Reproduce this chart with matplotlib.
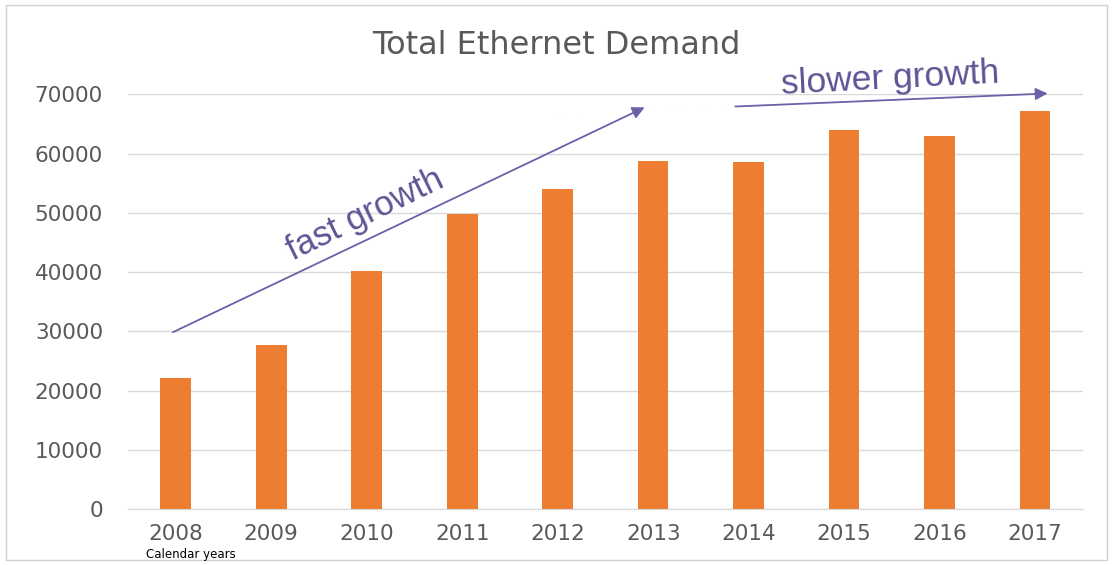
import matplotlib
matplotlib.use("Agg")
import matplotlib.pyplot as plt
from matplotlib.patches import Rectangle

years = ['2008', '2009', '2010', '2011', '2012', '2013', '2014', '2015', '2016', '2017']
demand = [22200, 27650, 40150, 49850, 54100, 58750, 58500, 64050, 62950, 67150]
yticks = [0, 10000, 20000, 30000, 40000, 50000, 60000, 70000]

bar_color = '#ED7D31'
arrow_color = '#6F5FA8'
text_color = '#5E5494'
grey = '#595959'

plt.rcParams['font.family'] = ['DejaVu Sans']

fig = plt.figure(figsize=(11.13, 5.65), dpi=100)
ax = fig.add_axes([0.115, 0.099, 0.858, 0.734])

x = range(len(years))
ax.bar(x, demand, width=0.32, color=bar_color, zorder=2)

ax.set_xlim(-0.5, len(years) - 0.5)
ax.set_ylim(0, 70000)
ax.set_yticks(yticks)
ax.set_yticklabels([str(v) for v in yticks])
ax.set_xticks(list(x))
ax.set_xticklabels(years)
ax.tick_params(axis='both', length=0, labelsize=15.5, colors=grey)
ax.tick_params(axis='y', pad=18)
ax.tick_params(axis='x', pad=11)
ax.grid(axis='y', color='#D9D9D9', linewidth=1, zorder=0)
for s in ['top', 'right', 'left']:
    ax.spines[s].set_visible(False)
ax.spines['bottom'].set_color('#D9D9D9')

fig.text(0.5, 0.92, 'Total Ethernet Demand', ha='center', va='center',
         fontsize=23, color=grey)

# annotations
ax.annotate('', xy=(4.91, 67800), xytext=(-0.03, 29850),
            arrowprops=dict(arrowstyle='-|>', color=arrow_color, lw=1.3,
                            mutation_scale=18, shrinkA=0, shrinkB=0),
            annotation_clip=False)
ax.annotate('', xy=(9.13, 70150), xytext=(5.86, 67950),
            arrowprops=dict(arrowstyle='-|>', color=arrow_color, lw=1.3,
                            mutation_scale=18, shrinkA=0, shrinkB=0),
            annotation_clip=False)
ann_font = ['Liberation Sans', 'DejaVu Sans']
ax.text(1.98, 49700, 'fast growth', rotation=26, ha='center', va='center',
        fontsize=25, color=text_color, rotation_mode='anchor', family=ann_font)
ax.text(7.48, 72700, 'slower growth', rotation=3, ha='center', va='center',
        fontsize=25.5, color=text_color, rotation_mode='anchor', clip_on=False,
        family=ann_font)

fig.text(0.131, 0.012, 'Calendar years', fontsize=8.5, color='black')

fig.patches.append(Rectangle((0.005, 0.008), 0.99, 0.984, transform=fig.transFigure,
                             fill=False, edgecolor='#D0D0D0', linewidth=1))

fig.savefig('out.png', dpi=100)
